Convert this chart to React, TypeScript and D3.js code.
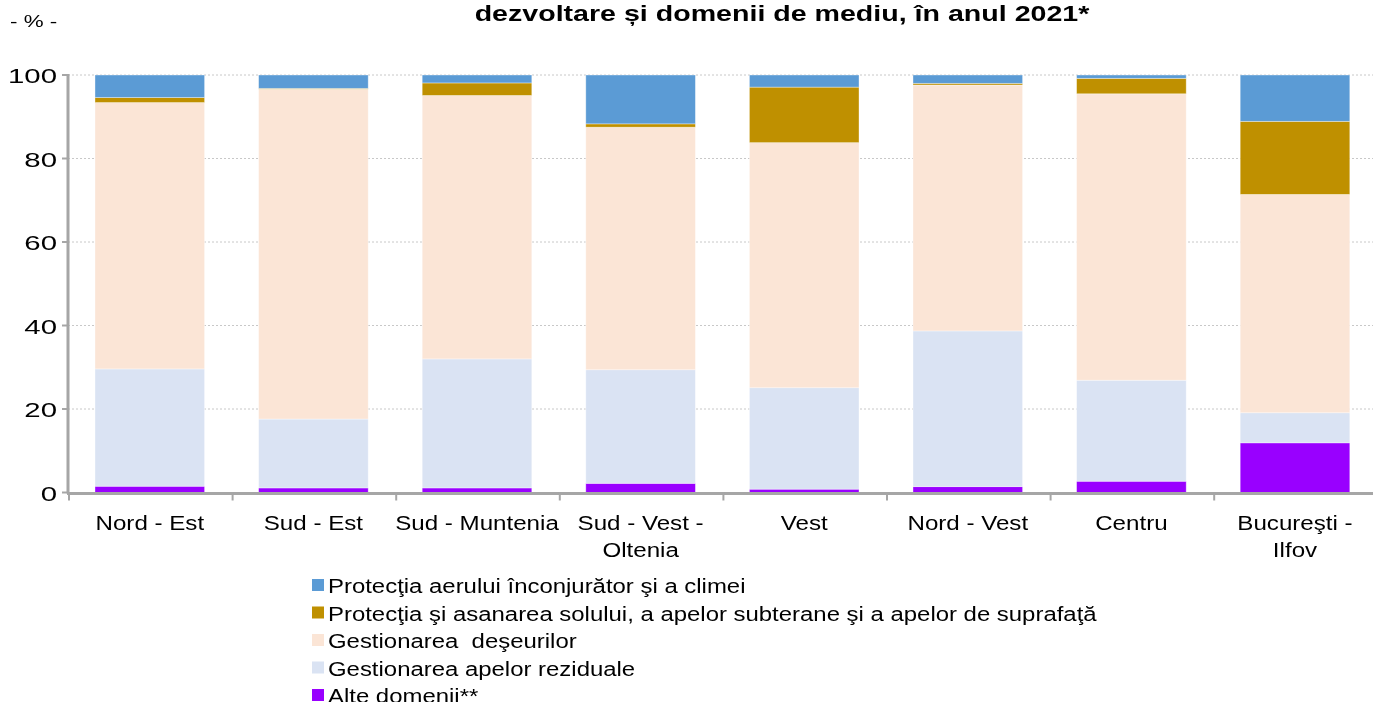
import React from 'react';
import * as d3 from 'd3';

const regions = ['Nord - Est', 'Sud - Est', 'Sud - Muntenia', 'Sud - Vest - Oltenia', 'Vest', 'Nord - Vest', 'Centru', 'Bucureşti - Ilfov'];
const regionLines = [['Nord - Est'], ['Sud - Est'], ['Sud - Muntenia'], ['Sud - Vest -', 'Oltenia'], ['Vest'], ['Nord - Vest'], ['Centru'], ['Bucureşti -', 'Ilfov']];

// stacked bottom -> top
const alteDomenii = [1.5, 1.1, 1.1, 2.2, 0.8, 1.4, 2.7, 11.9];
const apeReziduale = [28.1, 16.5, 30.9, 27.2, 24.3, 37.3, 24.2, 7.2];
const deseuri = [63.8, 79.0, 63.1, 58.1, 58.7, 58.9, 68.6, 52.3];
const solApe = [1.2, 0.2, 3.0, 0.8, 13.3, 0.4, 3.7, 17.5];
const aerClima = [5.4, 3.2, 1.9, 11.7, 2.9, 2.0, 0.8, 11.1];

const yTicks = [0, 20, 40, 60, 80, 100];

const series = [
  { key: 'alte', name: 'Alte domenii**', values: alteDomenii, color: '#9900FF' },
  { key: 'reziduale', name: 'Gestionarea apelor reziduale', values: apeReziduale, color: '#DAE3F3' },
  { key: 'deseuri', name: 'Gestionarea  deşeurilor', values: deseuri, color: '#FBE5D6' },
  { key: 'sol', name: 'Protecţia şi asanarea solului, a apelor subterane şi a apelor de suprafaţă', values: solApe, color: '#BF9000' },
  { key: 'aer', name: 'Protecţia aerului înconjurător şi a climei', values: aerClima, color: '#5B9BD5' },
];

const W = 1373;
const H = 702;
const left = 68;
const top = 75;
const bottom = 492.5;
const bandW = 163.6;

// text stretched horizontally like the source rendering
const Txt = ({ x, y, sx, anchor = 'start', size, bold = false, children }: any) => (
  <text
    transform={`translate(${x},${y}) scale(${sx},1)`}
    textAnchor={anchor}
    fontSize={size}
    fontWeight={bold ? 'bold' : 'normal'}
    style={{ whiteSpace: 'pre' }}
  >
    {children}
  </text>
);

export default function App() {
  const x = d3.scaleBand<string>().domain(regions).range([left, left + bandW * regions.length]).paddingInner(0.33).paddingOuter(0.165);
  const xTicks = d3.scaleBand<string>().domain(regions).range([left, left + bandW * regions.length]);
  const y = d3.scaleLinear().domain([0, 100]).range([bottom, top]);

  const rows = regions.map((r, i) => {
    const o: any = { region: r };
    series.forEach((s) => (o[s.key] = s.values[i]));
    return o;
  });
  const stacked = d3.stack().keys(series.map((s) => s.key))(rows);
  const legendOrder = [...series].reverse();
  const font = 'Arial, "Liberation Sans", sans-serif';

  return (
    <div style={{ position: 'fixed', left: 0, top: 0 }}>
      <svg width={W} height={H} style={{ display: 'block' }} fontFamily={font}>
        <Txt x={782} y={21} sx={1.3} anchor="middle" size={22} bold>
          dezvoltare și domenii de mediu, în anul 2021*
        </Txt>
        <Txt x={10} y={27} sx={1.4} size={16}>- % -</Txt>

        {yTicks.map((t) => (
          <g key={t}>
            {t > 0 && (
              <line x1={left} x2={W} y1={y(t)} y2={y(t)} stroke="#c8c8c8" strokeWidth={1} strokeDasharray="2,2" />
            )}
            <line x1={left - 6} x2={left} y1={y(t)} y2={y(t)} stroke="#a6a6a6" strokeWidth={2} />
            <Txt x={57} y={y(t) + 8} sx={1.4} anchor="end" size={21}>{t}</Txt>
          </g>
        ))}

        {stacked.map((layer, si) => (
          <g key={layer.key} fill={series[si].color}>
            {layer.map((d, i) => (
              <rect
                key={i}
                x={x(regions[i])}
                width={x.bandwidth()}
                y={y(d[1])}
                height={Math.max(0, y(d[0]) - y(d[1]))}
                stroke="#ffffff"
                strokeOpacity={0.45}
                strokeWidth={0.8}
              />
            ))}
          </g>
        ))}

        <line x1={left} x2={left} y1={top - 1} y2={bottom + 1} stroke="#a6a6a6" strokeWidth={3} />
        <line x1={left - 1} x2={W} y1={bottom + 1} y2={bottom + 1} stroke="#a6a6a6" strokeWidth={3} />
        {regions.map((r) => (
          <line key={r} x1={xTicks(r)! + 1} x2={xTicks(r)! + 1} y1={bottom} y2={bottom + 8} stroke="#a6a6a6" strokeWidth={2} />
        ))}

        {regions.map((r, i) =>
          regionLines[i].map((ln, j) => (
            <Txt key={r + j} x={x(r)! + x.bandwidth() / 2} y={530 + j * 27} sx={1.15} anchor="middle" size={21}>
              {ln}
            </Txt>
          ))
        )}

        {legendOrder.map((s, i) => (
          <g key={s.key} transform={`translate(312, ${585 + i * 27.5})`}>
            <rect x={0} y={-6} width={12} height={12} fill={s.color} />
            <Txt x={16} y={8} sx={1.14} size={21}>{s.name}</Txt>
          </g>
        ))}
      </svg>
    </div>
  );
}
